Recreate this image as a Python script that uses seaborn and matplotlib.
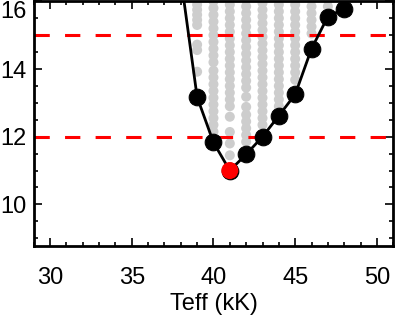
import matplotlib
matplotlib.use("Agg")
import matplotlib.pyplot as plt
import seaborn as sns
import pandas as pd
from matplotlib.ticker import MultipleLocator

# best-fit curve (black) and minimum (red)
teff_fit = [38, 39, 40, 41, 42, 43, 44, 45, 46, 47, 48]
y_fit = [16.7, 13.17, 11.83, 11.0, 11.48, 12.0, 12.62, 13.25, 14.6, 15.55, 15.78]
teff_min = [41]
y_min = [11.0]

# grey grid of models, one column per Teff
col39 = [13.92, 14.56, 14.72, 15.3, 15.45, 15.6, 15.75, 15.9, 16.05]
col40 = [11.95, 12.15, 12.35, 12.55, 12.75, 12.95, 13.15, 13.35, 13.55, 13.75, 13.95,
         14.2, 14.4, 14.6, 14.8, 15.0, 15.2, 15.4, 15.6, 15.8, 16.0]
col41 = [11.45, 11.8, 12.14, 12.59, 12.9, 13.1, 13.3, 13.5, 13.7, 13.9, 14.1, 14.3,
         14.5, 14.7, 14.9, 15.1, 15.3, 15.5, 15.7, 15.9, 16.05]
col42 = [11.85, 12.05, 12.25, 12.45, 12.65, 12.88, 13.18, 13.45, 13.65, 13.85, 14.05,
         14.25, 14.45, 14.65, 14.85, 15.05, 15.25, 15.45, 15.65, 15.85, 16.05]
col43 = [12.35, 12.55, 12.75, 12.95, 13.15, 13.35, 13.55, 13.75, 13.95, 14.15, 14.35,
         14.55, 14.75, 14.95, 15.15, 15.35, 15.55, 15.75, 15.95]
col44 = [12.9, 13.1, 13.3, 13.5, 13.7, 13.9, 14.1, 14.3, 14.5, 14.7, 14.9, 15.1,
         15.3, 15.5, 15.7, 15.9]
col45 = [13.68, 13.9, 14.1, 14.3, 14.5, 14.7, 14.9, 15.1, 15.3, 15.5, 15.7, 15.9]
col46 = [15.05, 15.25, 15.45, 15.65, 15.85, 16.05]
col47 = [15.85, 16.05]
grid_teff = [39, 40, 41, 42, 43, 44, 45, 46, 47]
grid_cols = [col39, col40, col41, col42, col43, col44, col45, col46, col47]

# horizontal limits
hlines = [12.0, 15.0]

sns.set_style("ticks")
plt.rcParams['font.family'] = ['Liberation Sans', 'DejaVu Sans']
plt.rcParams['text.color'] = 'black'
plt.rcParams['axes.labelcolor'] = 'black'
plt.rcParams['xtick.color'] = 'black'
plt.rcParams['ytick.color'] = 'black'

rows = []
for t, col in zip(grid_teff, grid_cols):
    for v in col:
        rows.append((t, v))
grid = pd.DataFrame(rows, columns=["teff", "y"])
fit = pd.DataFrame({"teff": teff_fit, "y": y_fit})

fig = plt.figure(figsize=(4.04, 3.26), dpi=100)
ax = fig.add_axes([0.0834, 0.2463, 0.89, 0.7497])

sns.scatterplot(data=grid, x="teff", y="y", color="#cdcdcd", s=52,
                edgecolor="none", ax=ax, zorder=1, legend=False)
for h in hlines:
    ax.axhline(h, color="red", lw=2.2, dashes=(5, 5), zorder=2)
sns.lineplot(data=fit, x="teff", y="y", color="black", lw=2, marker="o",
             markersize=12, markeredgecolor="black", ax=ax, zorder=3, legend=False)
sns.scatterplot(x=teff_min, y=y_min, color="red", s=150, edgecolor="none",
                ax=ax, zorder=4, legend=False)

ax.set_xlim(29, 51)
ax.set_ylim(8.78, 16.0)
ax.set_xticks([30, 35, 40, 45, 50])
ax.set_yticks([10, 12, 14, 16])
ax.xaxis.set_minor_locator(MultipleLocator(1))
ax.yaxis.set_minor_locator(MultipleLocator(0.5))
ax.tick_params(which="both", direction="in", top=True, right=True,
               labelsize=17, width=1.2, color="black", labelcolor="black")
ax.tick_params(which="major", length=6)
ax.tick_params(which="minor", length=3)
ax.tick_params(axis="x", which="major", pad=15)
ax.tick_params(axis="y", which="major", pad=5)
for s in ax.spines.values():
    s.set_linewidth(2)
    s.set_color("black")
ax.yaxis.get_major_ticks()[-1].label1.set_va("top")

ax.set_xlabel("Teff (kK)", fontsize=17, labelpad=3, color="black")
ax.set_ylabel("")

fig.savefig("out.png", dpi=100)
